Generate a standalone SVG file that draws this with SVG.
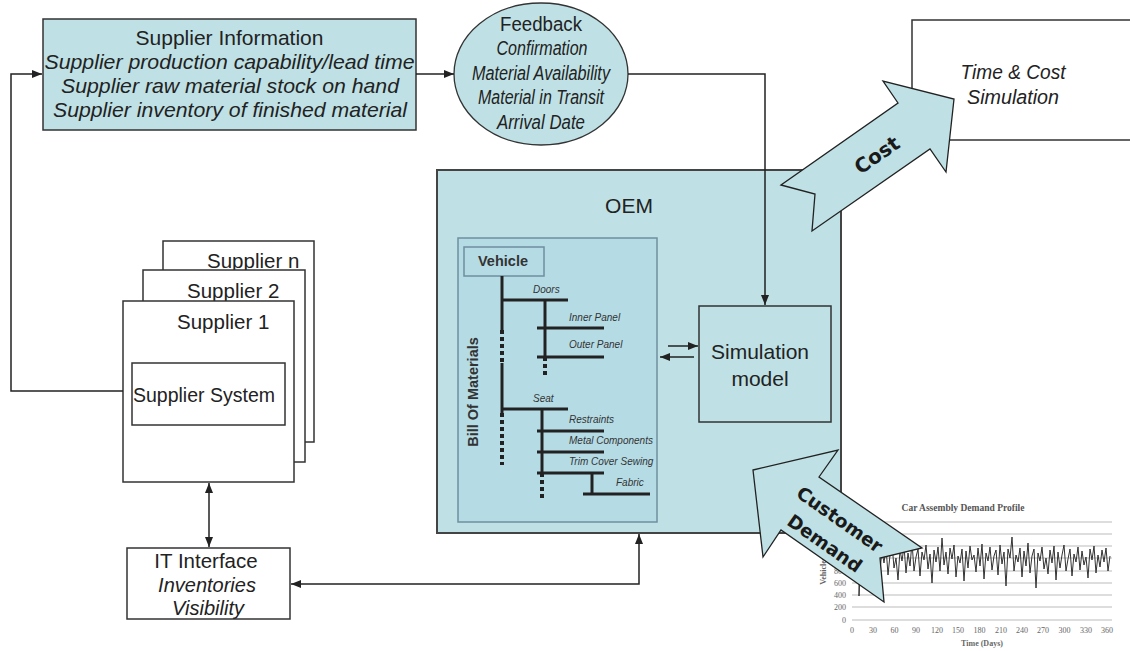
<svg xmlns="http://www.w3.org/2000/svg" width="1130" height="651" viewBox="0 0 1130 651">
  <style>
    .box { stroke: #333; stroke-width: 1.5; }
    .teal { fill: #bfe1e5; }
    .white { fill: #fff; }
    .t { font-family: "Liberation Sans", Arial, sans-serif; fill: #222; }
    .it { font-style: italic; }
    .mid { text-anchor: middle; }
    .conn { fill: none; stroke: #222; stroke-width: 1.5; }
    .bom { fill: none; stroke: #222; stroke-width: 3; }
    .dots { fill: none; stroke: #222; stroke-width: 4; stroke-dasharray: 4 3; }
    .bl { font-family: "Liberation Sans", Arial, sans-serif; font-style: italic; font-size: 10px; fill: #333; }
    .big { font-family: "DejaVu Sans", Verdana, sans-serif; font-weight: bold; fill: #1a1a1a; text-anchor: middle; }
    .grid { stroke: #bbb; stroke-width: 1; }
    .ax { font-family: "Liberation Serif", "Times New Roman", serif; font-size: 8px; fill: #666; }
  </style>
  <defs>
    <marker id="ah" markerUnits="userSpaceOnUse" markerWidth="11" markerHeight="9" refX="10" refY="4" orient="auto-start-reverse">
      <path d="M0,0 L10,4 L0,8 z" fill="#222"/>
    </marker>
  </defs>

  <rect width="1130" height="651" fill="#fff"/>

  <!-- demand profile chart -->
  <g id="demand-chart">
    <text class="mid" x="963" y="511" font-family="Liberation Serif, serif" font-weight="bold" font-size="9.5" fill="#555">Car Assembly Demand Profile</text>
    <g class="grid">
      <line x1="852" y1="522" x2="1112" y2="522"/>
      <line x1="852" y1="534" x2="1112" y2="534"/>
      <line x1="852" y1="546" x2="1112" y2="546"/>
      <line x1="852" y1="558" x2="1112" y2="558"/>
      <line x1="852" y1="571" x2="1112" y2="571"/>
      <line x1="852" y1="583" x2="1112" y2="583"/>
      <line x1="852" y1="595" x2="1112" y2="595"/>
      <line x1="852" y1="607" x2="1112" y2="607"/>
      <line x1="852" y1="620" x2="1112" y2="620"/>
    </g>
    <g class="ax" text-anchor="end">
      <text x="846" y="623">0</text>
      <text x="846" y="610">200</text>
      <text x="846" y="598">400</text>
      <text x="846" y="586">600</text>
      <text x="846" y="574">800</text>
      <text x="846" y="561">1000</text>
      <text x="846" y="549">1200</text>
      <text x="846" y="537">1400</text>
      <text x="846" y="525">1600</text>
    </g>
    <g class="ax" text-anchor="middle">
      <text x="852" y="633">0</text>
      <text x="873" y="633">30</text>
      <text x="894.5" y="633">60</text>
      <text x="916" y="633">90</text>
      <text x="937" y="633">120</text>
      <text x="958" y="633">150</text>
      <text x="979.5" y="633">180</text>
      <text x="1001" y="633">210</text>
      <text x="1022" y="633">240</text>
      <text x="1043" y="633">270</text>
      <text x="1064.5" y="633">300</text>
      <text x="1086" y="633">330</text>
      <text x="1107" y="633">360</text>
    </g>
    <text class="ax mid" x="982" y="646" font-weight="bold">Time (Days)</text>
    <text class="ax mid" transform="translate(826,571) rotate(-90)" font-weight="bold">Vehicles</text>
    <polyline fill="none" stroke="#333" stroke-width="1" points="859,557 859,596 860,575 862,560 864,548 866,572 868,552 870,566 872,545 874,578 876,556 878,549 880,570 882,551 884,563 886,547 888,575 890,555 892,544 894,568 896,558 898,580 900,550 902,561 904,546 906,573 908,553 910,566 912,542 914,571 916,557 918,549 920,576 922,552 924,560 926,545 928,569 930,554 932,583 934,550 936,562 938,547 940,571 942,538 944,565 946,552 948,574 950,548 952,559 954,545 956,577 958,556 960,563 962,549 964,581 966,551 968,568 970,546 972,560 974,555 976,572 978,548 980,566 982,544 984,579 986,553 988,561 990,547 992,570 994,556 996,550 998,575 1000,545 1002,564 1004,552 1006,586 1008,549 1010,558 1012,537 1014,571 1016,555 1018,562 1020,548 1022,577 1024,551 1026,566 1028,543 1030,573 1032,556 1034,549 1036,588 1038,553 1040,561 1042,547 1044,569 1046,558 1048,574 1050,550 1052,563 1054,546 1056,580 1058,552 1060,568 1062,555 1064,545 1066,571 1068,559 1070,549 1072,576 1074,554 1076,562 1078,547 1080,570 1082,551 1084,565 1086,557 1088,578 1090,549 1092,560 1094,546 1096,573 1098,555 1100,567 1102,550 1104,562 1106,548 1108,571 1110,556"/>
  </g>

  <!-- supplier information -->
  <g id="supplier-info">
    <rect class="box teal" x="43" y="19" width="373" height="111"/>
    <text class="t mid" x="229.5" y="45" font-size="21">Supplier Information</text>
    <text class="t it mid" x="229.5" y="69" font-size="21" textLength="370" lengthAdjust="spacingAndGlyphs">Supplier production capability/lead time</text>
    <text class="t it mid" x="230" y="93" font-size="21" textLength="338" lengthAdjust="spacingAndGlyphs">Supplier raw material stock on hand</text>
    <text class="t it mid" x="230" y="117" font-size="21" textLength="354" lengthAdjust="spacingAndGlyphs">Supplier inventory of finished material</text>
  </g>

  <!-- feedback -->
  <g id="feedback">
    <ellipse class="teal" stroke="#333" stroke-width="1.3" cx="541" cy="74" rx="87" ry="71"/>
    <text class="t mid" x="541" y="31" font-size="20" textLength="82" lengthAdjust="spacingAndGlyphs">Feedback</text>
    <text class="t it mid" x="542" y="55" font-size="20" textLength="91" lengthAdjust="spacingAndGlyphs">Confirmation</text>
    <text class="t it mid" x="541" y="80" font-size="20" textLength="138" lengthAdjust="spacingAndGlyphs">Material Availability</text>
    <text class="t it mid" x="541" y="104" font-size="20" textLength="126" lengthAdjust="spacingAndGlyphs">Material in Transit</text>
    <text class="t it mid" x="541" y="129" font-size="20" textLength="88" lengthAdjust="spacingAndGlyphs">Arrival Date</text>
  </g>

  <!-- time and cost simulation -->
  <g id="time-cost">
    <path class="box white" d="M1135,20 H912 V140 H1135"/>
    <text class="t it mid" x="1013" y="79" font-size="20" textLength="105" lengthAdjust="spacingAndGlyphs">Time &amp; Cost</text>
    <text class="t it mid" x="1013" y="104" font-size="20" textLength="92" lengthAdjust="spacingAndGlyphs">Simulation</text>
  </g>

  <!-- OEM -->
  <g id="oem">
    <rect class="teal" stroke="#444" stroke-width="2" x="437" y="170" width="404" height="363"/>
    <text class="t mid" x="629" y="213" font-size="21">OEM</text>
  </g>

  <!-- bill of materials -->
  <g id="bill-of-materials">
    <rect x="458" y="238" width="199" height="284" fill="#b5dbe5" stroke="#6f8f9f" stroke-width="1.5"/>
    <rect x="464" y="247" width="80" height="29" fill="#b5dbe5" stroke="#6f8f9f" stroke-width="1.5"/>
    <text x="503" y="266" text-anchor="middle" font-family="Liberation Sans, Arial, sans-serif" font-weight="bold" font-size="14.5" fill="#333">Vehicle</text>
    <text transform="translate(478,392) rotate(-90)" text-anchor="middle" font-family="Liberation Sans, Arial, sans-serif" font-weight="bold" font-size="14.5" fill="#333">Bill Of Materials</text>
    <line class="bom" x1="502" y1="276" x2="502" y2="330"/>
    <line class="dots" x1="502" y1="330" x2="502" y2="363"/>
    <line class="bom" x1="502" y1="363" x2="502" y2="413"/>
    <line class="dots" x1="502" y1="413" x2="502" y2="465"/>
    <line class="bom" x1="502" y1="300" x2="568" y2="300"/>
    <line class="bom" x1="545" y1="300" x2="545" y2="357"/>
    <line class="dots" x1="545" y1="357" x2="545" y2="378"/>
    <line class="bom" x1="537" y1="328" x2="604" y2="328"/>
    <line class="bom" x1="537" y1="357" x2="604" y2="357"/>
    <line class="bom" x1="502" y1="409" x2="568" y2="409"/>
    <line class="bom" x1="542" y1="409" x2="542" y2="473"/>
    <line class="dots" x1="542" y1="473" x2="542" y2="500"/>
    <line class="bom" x1="537" y1="431" x2="604" y2="431"/>
    <line class="bom" x1="537" y1="452" x2="604" y2="452"/>
    <line class="bom" x1="537" y1="473" x2="604" y2="473"/>
    <line class="bom" x1="592" y1="473" x2="592" y2="494"/>
    <line class="bom" x1="583" y1="494" x2="650" y2="494"/>
    <text class="bl" x="533" y="293">Doors</text>
    <text class="bl" x="569" y="321">Inner Panel</text>
    <text class="bl" x="569" y="348">Outer Panel</text>
    <text class="bl" x="533" y="402">Seat</text>
    <text class="bl" x="569" y="423">Restraints</text>
    <text class="bl" x="569" y="444">Metal Components</text>
    <text class="bl" x="569" y="465">Trim Cover Sewing</text>
    <text class="bl" x="616" y="486">Fabric</text>
  </g>

  <!-- simulation model -->
  <g id="simulation-model">
    <rect class="box teal" x="699" y="306" width="132" height="116"/>
    <text class="t mid" x="760" y="359" font-size="21">Simulation</text>
    <text class="t mid" x="760" y="386" font-size="21">model</text>
  </g>

  <!-- suppliers -->
  <g id="supplier-n">
    <rect class="box white" x="163" y="241" width="151" height="201"/>
    <text class="t" x="207" y="268" font-size="20.5">Supplier n</text>
  </g>
  <g id="supplier-2">
    <rect class="box white" x="143" y="270" width="162" height="192"/>
    <text class="t" x="187" y="298" font-size="20.5">Supplier 2</text>
  </g>
  <g id="supplier-1">
    <rect class="box white" x="123" y="301" width="171" height="181"/>
    <text class="t" x="177" y="329" font-size="20.5">Supplier 1</text>
    <rect class="box white" x="132" y="363" width="153" height="62"/>
    <text class="t" x="133" y="402" font-size="19.5">Supplier System</text>
  </g>

  <!-- IT interface -->
  <g id="it-interface">
    <rect class="box white" x="127" y="548" width="163" height="71"/>
    <text class="t mid" x="206" y="568" font-size="20.5">IT Interface</text>
    <text class="t it mid" x="207" y="592" font-size="20">Inventories</text>
    <text class="t it mid" x="208" y="615" font-size="20">Visibility</text>
  </g>

  <!-- connectors -->
  <g id="connectors">
    <polyline class="conn" points="123,391 11,391 11,74 42,74" marker-end="url(#ah)"/>
    <line class="conn" x1="416" y1="74" x2="454" y2="74" marker-end="url(#ah)"/>
    <polyline class="conn" points="628,74 765,74 765,305" marker-end="url(#ah)"/>
    <line class="conn" x1="668" y1="346" x2="698" y2="346" marker-end="url(#ah)"/>
    <line class="conn" x1="694" y1="357" x2="660" y2="357" marker-end="url(#ah)"/>
    <line class="conn" stroke-width="2" x1="209" y1="483" x2="209" y2="547" marker-start="url(#ah)" marker-end="url(#ah)"/>
    <polyline class="conn" points="639,534 639,584 291,584" marker-start="url(#ah)" marker-end="url(#ah)"/>
  </g>

  <!-- cost block arrow -->
  <g id="cost-arrow">
    <polygon class="teal" stroke="#222" stroke-width="1.3" points="781,185 815,194 812,231 930,149 946,172 954,99 883,81 898,103"/>
    <text class="big" font-size="20" transform="translate(877,155) rotate(-35)" y="7">Cost</text>
  </g>

  <!-- customer demand block arrow -->
  <g id="customer-demand-arrow">
    <polygon class="teal" stroke="#222" stroke-width="1.3" points="753,470 838,450 819,477 922,548 880,558 884,602 781,530 763,557"/>
    <text class="big" font-size="18.5" transform="translate(840,519) rotate(35)" y="7">Customer</text>
    <text class="big" font-size="18.5" transform="translate(825,543) rotate(35)" y="7">Demand</text>
  </g>
</svg>
